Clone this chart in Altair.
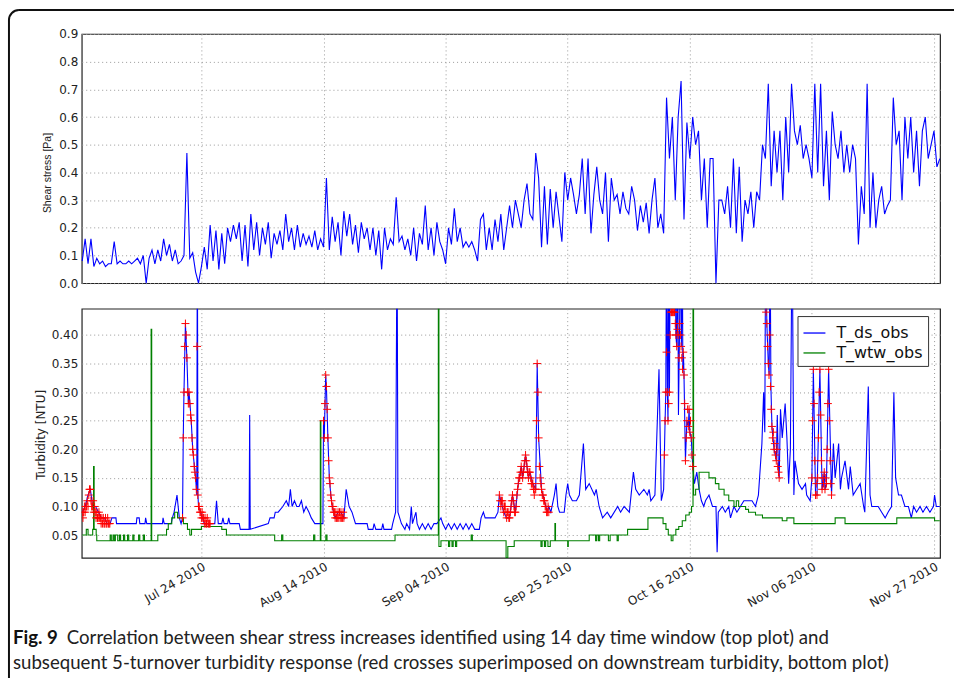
import altair as alt
import pandas as pd

BASE = pd.Timestamp("2010-07-01 00:00:00")


def stamp(day):
    return (BASE + pd.to_timedelta(day, unit="D")).strftime("%Y-%m-%dT%H:%M:%S")


# ---------------- top panel: shear stress, one reading every 12 h from day 2.5 (Jul 3 12:00)
SHEAR_START = 2.5
SHEAR_STEP = 0.5
SHEAR = [
    0.08,
    0.16, 0.07, 0.16, 0.06, 0.09, 0.07, 0.08, 0.06, 0.07, 0.07,
    0.15, 0.07, 0.08, 0.07, 0.07, 0.08, 0.07, 0.08, 0.09, 0.07,
    0.10, 0.00, 0.09, 0.12, 0.07, 0.12, 0.08, 0.16, 0.10, 0.14,
    0.08, 0.12, 0.07, 0.08, 0.10, 0.47, 0.09, 0.11, 0.04, 0.00,
    0.06, 0.13, 0.05, 0.21, 0.08, 0.19, 0.05, 0.18, 0.07, 0.20,
    0.15, 0.21, 0.16, 0.22, 0.08, 0.21, 0.06, 0.25, 0.12, 0.22,
    0.10, 0.20, 0.14, 0.22, 0.09, 0.18, 0.14, 0.19, 0.12, 0.25,
    0.15, 0.20, 0.12, 0.21, 0.13, 0.18, 0.14, 0.17, 0.13, 0.19,
    0.12, 0.16, 0.13, 0.38, 0.12, 0.24, 0.15, 0.22, 0.10, 0.26,
    0.17, 0.25, 0.14, 0.21, 0.11, 0.22, 0.16, 0.20, 0.12, 0.20,
    0.10, 0.19, 0.05, 0.20, 0.12, 0.16, 0.14, 0.31, 0.15, 0.17,
    0.12, 0.16, 0.10, 0.20, 0.08, 0.18, 0.14, 0.28, 0.12, 0.20,
    0.10, 0.22, 0.15, 0.12, 0.07, 0.20, 0.14, 0.27, 0.15, 0.20,
    0.13, 0.15, 0.13, 0.15, 0.12, 0.08, 0.23, 0.25, 0.12, 0.20,
    0.12, 0.23, 0.15, 0.25, 0.12, 0.20, 0.28, 0.20, 0.30, 0.25,
    0.20, 0.30, 0.36, 0.25, 0.23, 0.47, 0.38, 0.13, 0.35, 0.14,
    0.34, 0.20, 0.33, 0.24, 0.15, 0.40, 0.30, 0.38, 0.32, 0.25,
    0.32, 0.45, 0.25, 0.45, 0.18, 0.32, 0.42, 0.30, 0.25, 0.40,
    0.15, 0.38, 0.30, 0.32, 0.25, 0.33, 0.27, 0.25, 0.35, 0.30,
    0.19, 0.28, 0.22, 0.29, 0.18, 0.30, 0.38, 0.20, 0.25, 0.18,
    0.67, 0.45, 0.60, 0.30, 0.60, 0.73, 0.23, 0.58, 0.45, 0.60,
    0.50, 0.55, 0.30, 0.45, 0.20, 0.45, 0.45, 0.00, 0.30, 0.30,
    0.25, 0.35, 0.20, 0.45, 0.18, 0.42, 0.15, 0.30, 0.25, 0.33,
    0.20, 0.33, 0.30, 0.50, 0.45, 0.72, 0.35, 0.55, 0.40, 0.55,
    0.30, 0.60, 0.40, 0.72, 0.55, 0.50, 0.57, 0.45, 0.50, 0.45,
    0.38, 0.72, 0.40, 0.72, 0.35, 0.55, 0.30, 0.62, 0.50, 0.45,
    0.55, 0.40, 0.50, 0.40, 0.50, 0.45, 0.14, 0.35, 0.25, 0.72,
    0.20, 0.40, 0.20, 0.30, 0.35, 0.25, 0.28, 0.30, 0.67, 0.50,
    0.55, 0.30, 0.60, 0.45, 0.60, 0.40, 0.55, 0.35, 0.55, 0.60,
    0.45, 0.50, 0.55, 0.42,
    0.45,
]

# ---------------- bottom panel: downstream turbidity (day since Jul 1, NTU)
T_DS_DAY = [
    2.5, 3.0, 3.5, 3.9, 4.3, 4.8, 5.3, 5.8, 6.3, 6.8, 7.3, 7.6, 8.3, 8.4, 11.8, 11.9, 12.3, 12.4,
    13.3, 13.4, 13.6, 16.3, 16.4, 16.6, 17.8, 18.0, 18.3, 18.8, 19.2, 19.5, 19.75, 19.875, 20.0,
    20.25, 20.5, 20.75, 20.875, 21.25, 21.5, 22.0, 22.2, 22.3, 22.4, 22.5, 22.875, 23.5, 25.3, 25.6,
    25.9, 26.5, 26.7, 26.9, 27.5, 27.7, 27.9, 29.5, 29.7, 31.2, 31.3, 31.4, 34.5, 34.8, 35.5, 35.7,
    36.2, 37.0, 37.6, 38.0, 38.3, 38.6, 39.0, 39.4, 39.8, 40.2, 40.6, 41.0, 41.5, 41.9, 42.5, 43.9,
    44.0, 44.125, 44.375, 44.5, 44.75, 45.0, 45.25, 45.5, 46.0, 46.5, 47.0, 47.5, 47.9, 48.4, 48.9,
    49.5, 51.5, 51.7, 52.5, 52.7, 53.0, 54.0, 54.2, 54.4, 55.7, 55.9, 56.4, 56.65, 56.8, 57.1, 57.4,
    58.0, 58.3, 58.8, 59.1, 59.3, 59.9, 60.1, 60.5, 61.0, 61.5, 62.0, 62.5, 63.0, 63.5, 64.2, 64.5,
    65.0, 65.5, 66.0, 66.5, 67.0, 67.5, 68.0, 68.5, 69.0, 69.5, 70.0, 70.8, 71.1, 71.5, 71.8, 73.5,
    74.0, 74.25, 75.0, 75.5, 76.0, 76.5, 77.0, 77.5, 78.0, 78.25, 78.75, 79.25, 79.5, 80.0, 80.5,
    80.75, 81.0, 81.5, 82.0, 82.5, 82.75, 83.1, 83.7, 84.0, 84.3, 84.6, 85.4, 85.7, 86.0, 86.3,
    86.8, 87.5, 88.0, 88.7, 89.1, 89.7, 90.6, 90.9, 91.4, 92.0, 92.8, 93.4, 94.6, 95.1, 95.7, 96.6,
    97.3, 97.7, 98.3, 99.1, 99.7, 100.0, 100.3, 101.0, 101.7, 102.1, 102.5, 102.625, 102.75,
    102.875, 103.0, 103.15, 103.25, 103.35, 103.5, 103.65, 104.5, 104.6, 104.75, 104.9, 105.05,
    105.25, 105.4, 105.55, 105.7, 105.8, 105.9, 106.0, 106.25, 106.5, 106.75, 106.875, 107.0,
    107.25, 107.5, 107.8, 108.2, 108.6, 109.0, 109.4, 109.7, 110.3, 110.9, 111.5, 111.7, 111.9,
    112.6, 113.1, 113.7, 114.0, 114.6, 115.1, 115.7, 116.3, 117.0, 117.7, 118.3, 118.8, 119.4,
    119.7, 119.9, 120.05, 120.25, 120.5, 120.65, 120.8, 120.95, 121.125, 121.5, 121.875, 122.05,
    122.25, 122.375, 122.6, 122.9, 123.4, 123.7, 124.0, 124.3, 124.6, 124.9, 125.1, 125.7, 126.3,
    126.9, 127.1, 127.7, 128.0, 128.25, 128.625, 128.875, 129.375, 129.75, 130.125, 130.25, 130.5,
    130.875, 131.375, 131.7, 132.0, 132.6, 132.9, 133.1, 133.7, 134.3, 134.6, 135.1, 135.7, 136.3,
    136.9, 137.1, 137.7, 138.0, 138.3, 139.4, 140.0, 140.6, 141.1, 141.7, 142.1, 142.4, 142.9,
    143.4, 144.0, 144.6, 145.1, 145.5, 146.0, 146.6, 147.1, 147.7, 148.3, 148.9, 149.1, 149.4, 150.0,
]
T_DS_VAL = [
    0.09, 0.10, 0.12, 0.13, 0.10, 0.10, 0.09, 0.08, 0.08, 0.07, 0.07, 0.08, 0.08, 0.07, 0.07, 0.08, 0.08, 0.07,
    0.07, 0.08, 0.07, 0.07, 0.08, 0.07, 0.07, 0.08, 0.09, 0.12, 0.08, 0.07, 0.08, 0.22, 0.30,
    0.42, 0.36, 0.28, 0.30, 0.25, 0.20, 0.15, 0.12, 0.60, 0.12, 0.10, 0.09, 0.07, 0.07, 0.11,
    0.07, 0.07, 0.08, 0.07, 0.07, 0.08, 0.07, 0.07, 0.06, 0.06, 0.26, 0.06, 0.07, 0.08, 0.08, 0.09,
    0.09, 0.10, 0.11, 0.10, 0.13, 0.10, 0.11, 0.10, 0.10, 0.11, 0.09, 0.10, 0.09, 0.08, 0.07, 0.07,
    0.25, 0.22, 0.33, 0.31, 0.22, 0.15, 0.12, 0.10, 0.08, 0.09, 0.09, 0.08, 0.13, 0.10, 0.09,
    0.07, 0.07, 0.06, 0.06, 0.07, 0.06, 0.06, 0.07, 0.06, 0.06, 0.07, 0.09, 0.60, 0.09, 0.08, 0.07,
    0.06, 0.07, 0.06, 0.10, 0.07, 0.09, 0.07, 0.06, 0.07, 0.06, 0.07, 0.06, 0.07, 0.07, 0.08, 0.07,
    0.06, 0.07, 0.06, 0.07, 0.06, 0.07, 0.06, 0.07, 0.06, 0.07, 0.06, 0.06, 0.08, 0.09, 0.08, 0.08,
    0.09, 0.12, 0.09, 0.08, 0.08, 0.12, 0.09, 0.14, 0.17, 0.15, 0.19, 0.15, 0.16, 0.14, 0.13,
    0.35, 0.22, 0.13, 0.11, 0.09, 0.10, 0.09, 0.12, 0.14, 0.10, 0.09, 0.09, 0.12, 0.14, 0.12,
    0.11, 0.11, 0.12, 0.21, 0.13, 0.14, 0.12, 0.13, 0.10, 0.08, 0.09, 0.08, 0.10, 0.09, 0.10, 0.09,
    0.16, 0.13, 0.12, 0.13, 0.12, 0.13, 0.11, 0.12, 0.34, 0.11, 0.13, 0.19, 0.25,
    0.30, 0.60, 0.30, 0.25, 0.60, 0.30, 0.60, 0.60, 0.40, 0.38, 0.60, 0.26,
    0.42, 0.60, 0.38, 0.60, 0.34, 0.37, 0.33, 0.18, 0.25, 0.24, 0.27, 0.23,
    0.22, 0.17, 0.14, 0.16, 0.13, 0.11, 0.10, 0.11, 0.12, 0.10, 0.10, 0.02, 0.09,
    0.10, 0.09, 0.10, 0.08, 0.10, 0.09, 0.10, 0.11, 0.11, 0.11, 0.10, 0.12, 0.21,
    0.30, 0.23, 0.60, 0.42, 0.35, 0.33, 0.60, 0.31, 0.24, 0.20, 0.18, 0.26,
    0.16, 0.15, 0.27, 0.22, 0.28, 0.22, 0.14, 0.20, 0.60, 0.12, 0.18, 0.14, 0.13,
    0.14, 0.12, 0.11, 0.15, 0.34, 0.12, 0.12, 0.34, 0.13, 0.16, 0.13, 0.14,
    0.34, 0.12, 0.21, 0.15, 0.21, 0.13, 0.15, 0.18, 0.13, 0.17, 0.12, 0.13, 0.14,
    0.10, 0.09, 0.31, 0.12, 0.10, 0.10, 0.09, 0.08, 0.09, 0.10, 0.30, 0.15, 0.12,
    0.12, 0.10, 0.10, 0.08, 0.10, 0.09, 0.10, 0.09, 0.10, 0.09, 0.10, 0.12, 0.10, 0.10,
]

# ---------------- bottom panel: water treatment works turbidity (day, NTU)
T_WTW_DAY = [
    2.5, 3.2, 3.5, 4.3, 4.45, 4.55, 4.9, 5.0, 7.3, 7.5, 7.8, 8.0, 8.2, 8.6, 8.9, 9.1, 9.6, 9.8,
    10.3, 10.5, 11.2, 11.4, 12.2, 12.4, 13.0, 13.2, 14.35, 14.45, 15.5, 17.0, 17.3, 17.9, 18.4,
    18.9, 19.9, 20.6, 21.0, 21.3, 23.0, 26.5, 27.3, 35.6, 36.8, 37.0, 42.3, 42.5, 43.45, 43.55,
    44.4, 44.6, 56.3, 63.75, 63.85, 64.2, 65.5, 65.7, 66.1, 66.3, 66.7, 66.9, 69.4, 69.6, 75.4,
    75.7, 76.8, 81.4, 81.6, 82.0, 82.2, 82.6, 83.0, 83.8, 83.9, 86.0, 86.1, 89.7, 90.8, 91.0,
    91.3, 91.5, 93.0, 93.3, 94.5, 94.7, 96.3, 99.8, 102.4, 102.9, 103.3, 103.8, 104.1, 104.6,
    105.1, 105.7, 106.3, 106.9, 107.3, 107.55, 107.65, 108.0, 108.6, 110.3, 111.4, 112.0, 112.9,
    113.7, 114.6, 115.0, 115.4, 116.6, 117.1, 118.3, 119.5, 122.9, 123.7, 124.9, 132.0, 133.7,
    142.6, 149.1, 150.0,
]
T_WTW_VAL = [
    0.05, 0.06, 0.05, 0.06, 0.17, 0.06, 0.05, 0.04, 0.05, 0.04, 0.05, 0.04, 0.05, 0.04, 0.05, 0.04, 0.05, 0.04,
    0.05, 0.04, 0.05, 0.04, 0.05, 0.04, 0.05, 0.04, 0.41, 0.04, 0.05, 0.06, 0.07, 0.08, 0.09,
    0.08, 0.07, 0.06, 0.05, 0.06, 0.065, 0.06, 0.05, 0.04, 0.05, 0.04, 0.05, 0.04, 0.25, 0.04,
    0.05, 0.04, 0.05, 0.60, 0.03, 0.04, 0.03, 0.04, 0.03, 0.04, 0.03, 0.04, 0.05, 0.04, 0.01,
    0.03, 0.04, 0.03, 0.04, 0.03, 0.04, 0.03, 0.04, 0.07, 0.04, 0.03, 0.04, 0.05, 0.04, 0.05,
    0.04, 0.05, 0.04, 0.05, 0.04, 0.05, 0.06, 0.08, 0.07, 0.06, 0.05, 0.04, 0.05, 0.06,
    0.065, 0.075, 0.085, 0.09, 0.10, 0.60, 0.12, 0.13, 0.16, 0.15, 0.14, 0.13, 0.12,
    0.11, 0.10, 0.11, 0.10, 0.095, 0.09, 0.085, 0.08, 0.075, 0.08, 0.07, 0.08, 0.07,
    0.08, 0.075, 0.075,
]

# ---------------- red crosses: 5-turnover responses (start day, step in days, values)
RED_START = [2.5, 19.75, 44.0, 74.25, 102.625, 120.125, 128.0]
RED_STEP = [0.125, 0.125, 0.125, 0.125, 0.125, 0.125, 0.125]
RED_VALUES = [
    [0.09, 0.08, 0.09, 0.10, 0.09, 0.10, 0.10, 0.11, 0.10, 0.12, 0.13, 0.13, 0.11, 0.10, 0.10, 0.11,
     0.09, 0.10, 0.09, 0.08, 0.09, 0.08, 0.08, 0.09, 0.08, 0.08, 0.07, 0.08, 0.07, 0.08, 0.07, 0.07,
     0.08, 0.07, 0.07, 0.08, 0.07, 0.07, 0.07],
    [0.08, 0.22, 0.30, 0.38, 0.42, 0.40, 0.36, 0.30, 0.28, 0.30, 0.28, 0.26, 0.25, 0.22, 0.20, 0.19,
     0.17, 0.16, 0.15, 0.13, 0.38, 0.12, 0.10, 0.10, 0.09, 0.09, 0.08, 0.09, 0.08, 0.08, 0.07, 0.08,
     0.07, 0.07, 0.08, 0.07, 0.07, 0.07, 0.07],
    [0.25, 0.22, 0.28, 0.33, 0.31, 0.27, 0.22, 0.18, 0.15, 0.14, 0.12, 0.11, 0.10, 0.10, 0.09, 0.09,
     0.08, 0.09, 0.08, 0.08, 0.09, 0.08, 0.09, 0.08, 0.09, 0.08, 0.08, 0.09, 0.08],
    [0.12, 0.11, 0.10, 0.11, 0.11, 0.10, 0.09, 0.10, 0.10, 0.09, 0.08, 0.09, 0.09, 0.08, 0.08, 0.09,
     0.10, 0.11, 0.12, 0.11, 0.10, 0.09, 0.09, 0.10, 0.12, 0.13, 0.14, 0.15, 0.15, 0.16, 0.17, 0.16,
     0.15, 0.16, 0.17, 0.18, 0.19, 0.18, 0.17, 0.16, 0.15, 0.16, 0.16, 0.15, 0.14, 0.14, 0.14, 0.13,
     0.12, 0.13, 0.13, 0.25, 0.35, 0.30, 0.22, 0.17, 0.15, 0.14, 0.13, 0.12, 0.12, 0.11, 0.11, 0.10,
     0.10, 0.09, 0.09, 0.10, 0.09],
    [0.19, 0.25, 0.30, 0.37, 0.30, 0.25, 0.28, 0.30, 0.40, 0.44, 0.44, 0.44, 0.44, 0.44, 0.44, 0.42,
     0.40, 0.38, 0.41, 0.40, 0.36, 0.42, 0.40, 0.38, 0.36, 0.34, 0.37, 0.33, 0.28, 0.18, 0.22, 0.25,
     0.27, 0.24, 0.27, 0.23, 0.25, 0.22, 0.19, 0.17],
    [0.44, 0.42, 0.38, 0.35, 0.33, 0.40, 0.31, 0.27, 0.24, 0.22, 0.23, 0.20, 0.21, 0.19, 0.18, 0.20,
     0.17, 0.16, 0.15],
    [0.15, 0.25, 0.34, 0.28, 0.18, 0.12, 0.14, 0.12, 0.15, 0.22, 0.30, 0.34, 0.26, 0.18, 0.13, 0.15,
     0.14, 0.16, 0.13, 0.15, 0.14, 0.20, 0.28, 0.34, 0.25, 0.18, 0.14, 0.12],
]

TICK_DATES = [(7, 24), (8, 14), (9, 4), (9, 25), (10, 16), (11, 6), (11, 27)]
SHEAR_TICKS = [0.0, 0.1, 0.2, 0.3, 0.4, 0.5, 0.6, 0.7, 0.8, 0.9]
TURB_TICKS = [0.05, 0.10, 0.15, 0.20, 0.25, 0.30, 0.35, 0.40]
SERIES = ["T_ds_obs", "T_wtw_obs"]
CAPTION_BOLD = "Fig. 9"
CAPTION_1 = "Correlation between shear stress increases identified using 14 day time window (top plot) and"
CAPTION_2 = ("subsequent 5-turnover turbidity response (red crosses superimposed on downstream turbidity, "
             "bottom plot)")

# ---------------- tables
shear_df = pd.DataFrame({
    "t": [stamp(SHEAR_START + SHEAR_STEP * i) for i in range(len(SHEAR))],
    "v": SHEAR,
})
ds_df = pd.DataFrame({"t": [stamp(d) for d in T_DS_DAY], "v": T_DS_VAL, "series": SERIES[0]})
wtw_df = pd.DataFrame({"t": [stamp(d) for d in T_WTW_DAY], "v": T_WTW_VAL, "series": SERIES[1]})
red_rows = []
for s, st, vals in zip(RED_START, RED_STEP, RED_VALUES):
    for i, v in enumerate(vals):
        red_rows.append({"t": stamp(s + st * i), "v": v})
red_df = pd.DataFrame(red_rows)

FONT = "DejaVu Sans"
x_scale = alt.Scale(domain=[alt.DateTime(year=2010, month=7, date=3, hours=10),
                            alt.DateTime(year=2010, month=11, date=28, hours=1)])
tick_vals = [alt.DateTime(year=2010, month=m, date=d) for m, d in TICK_DATES]
one = alt.Data(values=[{"k": 0}])

# ---------------- top chart
top_x = alt.X("t:T", scale=x_scale,
              axis=alt.Axis(values=tick_vals, labels=False, ticks=False, domain=False,
                            grid=True, title=None))
top_y = alt.Y("v:Q", scale=alt.Scale(domain=[0, 0.9], nice=False, zero=False),
              axis=alt.Axis(values=SHEAR_TICKS, format=".1f", ticks=False, domain=False,
                            grid=True, labelPadding=4, labelFlush=False,
                            title="Shear stress [Pa]", titleFont="Liberation Sans",
                            titleFontSize=10.5, titleFontWeight="normal", titleX=-34, titleY=139,
                            titleAngle=270, titleAlign="center", titleBaseline="middle"))
top_line = alt.Chart(shear_df).mark_line(color="#0000ff", strokeWidth=1.1).encode(x=top_x, y=top_y)

frame_top = alt.Chart(one).mark_rule(color="#111", strokeWidth=2).encode(
    x=alt.value(-63), x2=alt.value(875), y=alt.value(-24))
frame_left = alt.Chart(one).mark_rule(color="#111", strokeWidth=2).encode(
    x=alt.value(-73), y=alt.value(-14), y2=alt.value(646))
frame_corner = alt.Chart(one).mark_arc(innerRadius=9, outerRadius=11, theta=4.712389,
                                       theta2=6.283185, color="#111").encode(
    x=alt.value(-63), y=alt.value(-14))

top = alt.layer(top_line, frame_top, frame_left, frame_corner).properties(width=861, height=250)

# ---------------- bottom chart
bx = alt.X("t:T", scale=x_scale,
           axis=alt.Axis(values=tick_vals, format="%b %d %Y", labelAngle=330, labelAlign="right",
                         labelBaseline="top", labelPadding=3, labelOverlap=False, labelFlush=False,
                         ticks=False, domain=False, grid=True, title=None))
by = alt.Y("v:Q", scale=alt.Scale(domain=[0.01, 0.446], nice=False, zero=False),
           axis=alt.Axis(values=TURB_TICKS, format=".2f", ticks=False, domain=False, grid=True,
                         labelPadding=4, labelFlush=False, title="Turbidity [NTU]",
                         titleFont=FONT, titleFontSize=12, titleFontWeight="normal",
                         titleX=-41, titleY=126, titleAngle=270, titleAlign="center",
                         titleBaseline="middle"))
# legend sits in the top-level group (origin = top panel origin), so shift by the panel offset
color = alt.Color("series:N",
                  scale=alt.Scale(domain=SERIES, range=["#0000ff", "#008000"]),
                  legend=alt.Legend(title=None, orient="none", legendX=718, legendY=283,
                                    strokeColor="#333", fillColor="white", padding=5,
                                    labelFont=FONT, labelFontSize=16, labelColor="#111",
                                    symbolType="stroke", symbolSize=484, symbolStrokeWidth=1.3,
                                    rowPadding=0, labelOffset=10))
ds_line = alt.Chart(ds_df).mark_line(strokeWidth=1.1, clip=True).encode(x=bx, y=by, color=color)
wtw_line = alt.Chart(wtw_df).mark_line(strokeWidth=1.1, interpolate="step-after", clip=True).encode(
    x=bx, y=by, color=color)
red = alt.Chart(red_df).mark_point(shape="M-1,0L1,0M0,-1L0,1", size=64, filled=False,
                                   color="#ff0000", strokeWidth=1, opacity=1, clip=True).encode(
    x=bx, y=by)

CAP_SIZE = 18.7
cap_bold = alt.Chart(one).mark_text(text=CAPTION_BOLD, font="Lato", fontSize=CAP_SIZE,
                                    fontWeight="bold", align="left", baseline="alphabetic",
                                    color="#111").encode(x=alt.value(-69), y=alt.value(336))
cap_1 = alt.Chart(one).mark_text(text=CAPTION_1, font="Lato", fontSize=CAP_SIZE, align="left",
                                 baseline="alphabetic", color="#222").encode(
    x=alt.value(-15), y=alt.value(336))
cap_2 = alt.Chart(one).mark_text(text=CAPTION_2, font="Lato", fontSize=CAP_SIZE, align="left",
                                 baseline="alphabetic", color="#222").encode(
    x=alt.value(-69), y=alt.value(361))

bottom = alt.layer(ds_line, wtw_line, red, cap_bold, cap_1, cap_2).properties(width=861, height=250)

chart = alt.vconcat(top, bottom, spacing=25.6, bounds="flush").properties(
    padding={"left": 7, "top": 7, "right": 0, "bottom": 0}
).configure_view(stroke="#222", strokeWidth=1.2).configure_axis(
    labelFont=FONT, labelFontSize=12, labelColor="#222", titleColor="#222",
    gridColor="#999", gridDash=[1, 3], gridWidth=1, gridOpacity=1
)

chart.save("out.html", embed_options={"renderer": "svg", "actions": False})
